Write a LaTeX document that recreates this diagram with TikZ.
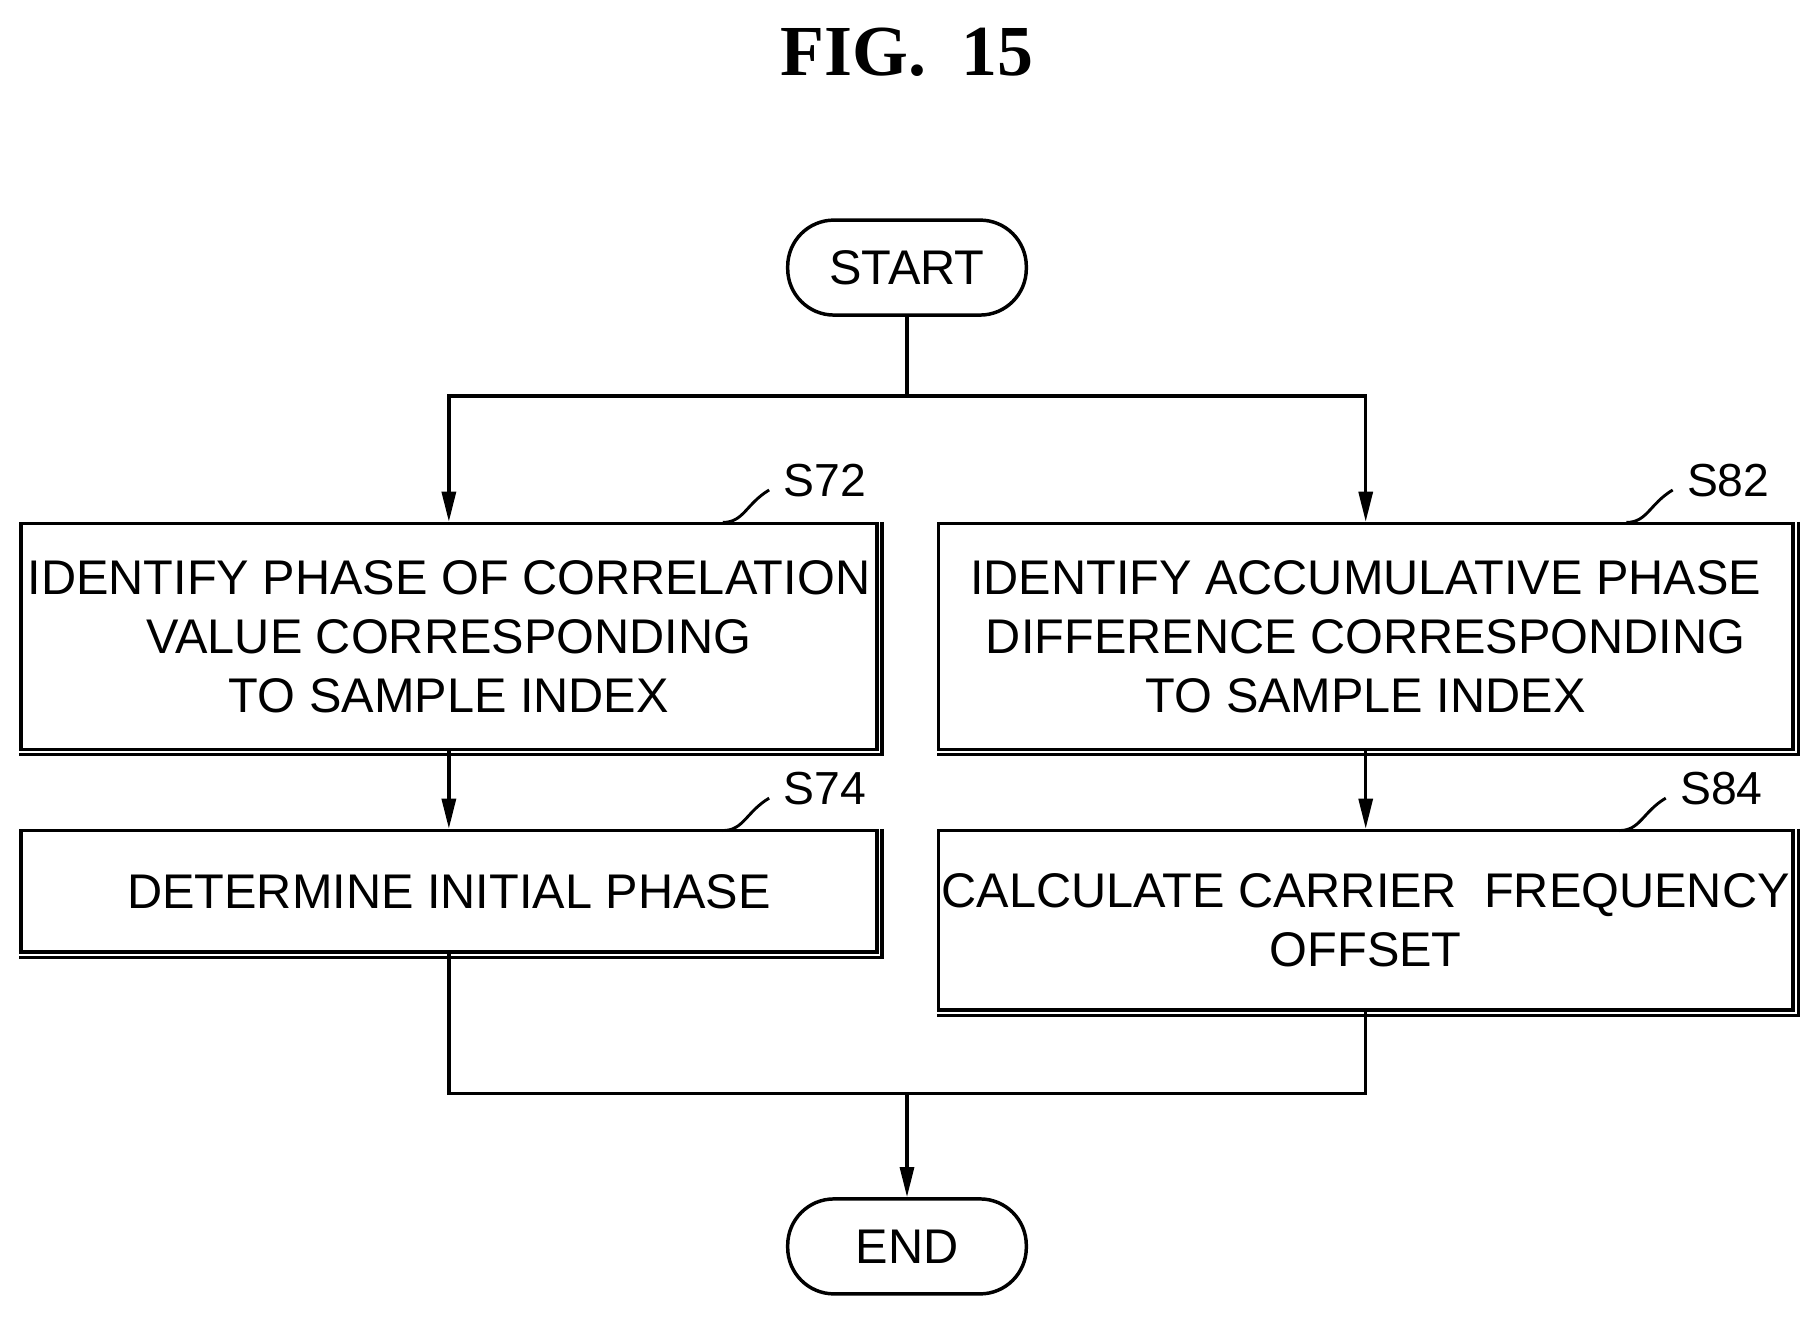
\documentclass[tikz,border=0pt]{standalone}
\usepackage{fontspec}
\setmainfont{Liberation Sans}
\newfontfamily\titlefont{Liberation Serif}
\usetikzlibrary{arrows.meta}
\begin{document}
\begin{tikzpicture}[x=1pt,y=-1pt,
  box/.style={draw,line width=3pt,minimum width=#1,align=center,inner sep=0pt,font=\fontsize{42}{51}\selectfont},
  term/.style={draw,line width=3pt,rounded corners=40pt,minimum width=206pt,minimum height=82pt,font=\fontsize{42}{51}\selectfont},
  line/.style={line width=3pt},
  arr/.style={line width=3pt,-{Triangle[length=26pt,width=12pt]}},
  lbl/.style={font=\fontsize{40}{48}\selectfont}]
\useasboundingbox (0,0) rectangle (1566,1137);
\node[font=\titlefont\bfseries\fontsize{62}{70}\selectfont] (title) at (783,45) {FIG.\ \ 15};
\node[term] (start) at (783,231) {START};
\node[term] (end) at (783,1076) {END};
\node[box=739pt,minimum height=195pt] (s72) at (387.5,549.5) {IDENTIFY PHASE OF CORRELATION\\VALUE CORRESPONDING\\TO SAMPLE INDEX};
\node[box=739pt,minimum height=105pt] (s74) at (387.5,769.5) {DETERMINE INITIAL PHASE};
\node[box=738pt,minimum height=195pt] (s82) at (1179,549.5) {IDENTIFY ACCUMULATIVE PHASE\\DIFFERENCE CORRESPONDING\\TO SAMPLE INDEX};
\node[box=738pt,minimum height=155pt] (s84) at (1179,794.5) {CALCULATE CARRIER\ \ FREQUENCY\\OFFSET};
\foreach \n in {s72,s74,s82,s84}{\draw[line width=3pt] ([xshift=3pt]\n.north east) -- ([xshift=3pt,yshift=-3pt]\n.south east) -- ([yshift=-3pt]\n.south west);}
\coordinate (b) at (783,342);
\coordinate (m) at (783,944);
\draw[line] (start.south) -- (b);
\draw[arr] (b) -| (s72.north);
\draw[arr] (b) -| (s82.north);
\draw[arr] (s72.south) -- (s74.north);
\draw[arr] (s82.south) -- (s84.north);
\draw[line] (s74.south) |- (m);
\draw[line] (s84.south) |- (m);
\draw[arr] (m) -- (end.north);
\foreach \n/\t/\x/\y in {s72/S72/712/415,s74/S74/712/681,s82/S82/1492/415,s84/S84/1486/681}{
  \node[lbl] (l\n) at (\x,\y) {\t};
  \draw[line width=2.5pt] (\x-88,\y+36) .. controls (\x-70,\y+36) and (\x-68,\y+20) .. (\x-48,\y+8);}
\end{tikzpicture}
\end{document}
